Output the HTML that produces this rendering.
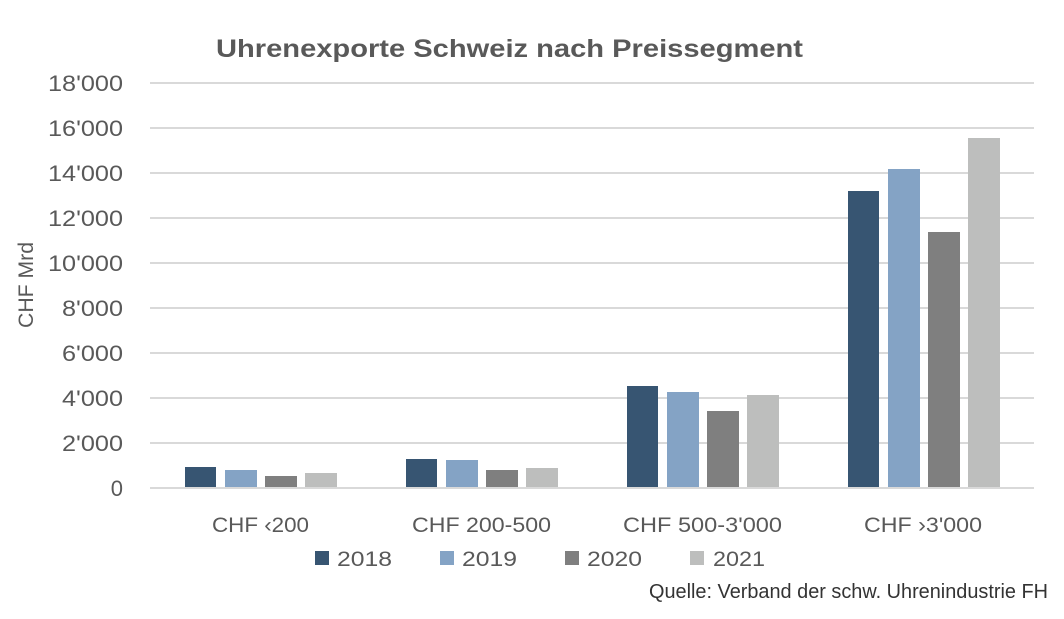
<!DOCTYPE html>
<html>
<head>
<meta charset="utf-8">
<style>
  html,body{margin:0;padding:0;background:#fff;}
  svg{display:block;}
  text{font-family:"Liberation Sans", sans-serif;}
</style>
</head>
<body>
<svg width="1064" height="619" viewBox="0 0 1064 619" xmlns="http://www.w3.org/2000/svg">
  <rect width="1064" height="619" fill="#ffffff"/>
  <!-- title -->
  <text x="216" y="57" font-size="25" font-weight="bold" fill="#595959" textLength="587" lengthAdjust="spacingAndGlyphs">Uhrenexporte Schweiz nach Preissegment</text>

  <!-- gridlines -->
  <g stroke="#d9d9d9" stroke-width="2">
    <line x1="150" x2="1034" y1="83" y2="83"/>
    <line x1="150" x2="1034" y1="128" y2="128"/>
    <line x1="150" x2="1034" y1="173" y2="173"/>
    <line x1="150" x2="1034" y1="218" y2="218"/>
    <line x1="150" x2="1034" y1="263" y2="263"/>
    <line x1="150" x2="1034" y1="308" y2="308"/>
    <line x1="150" x2="1034" y1="353" y2="353"/>
    <line x1="150" x2="1034" y1="398" y2="398"/>
    <line x1="150" x2="1034" y1="443" y2="443"/>
  </g>

  <!-- y tick labels -->
  <g font-size="22" fill="#595959" text-anchor="end">
    <text x="123" y="91" textLength="75" lengthAdjust="spacingAndGlyphs">18'000</text>
    <text x="123" y="136" textLength="75" lengthAdjust="spacingAndGlyphs">16'000</text>
    <text x="123" y="181" textLength="75" lengthAdjust="spacingAndGlyphs">14'000</text>
    <text x="123" y="226" textLength="75" lengthAdjust="spacingAndGlyphs">12'000</text>
    <text x="123" y="271" textLength="75" lengthAdjust="spacingAndGlyphs">10'000</text>
    <text x="123" y="316" textLength="61" lengthAdjust="spacingAndGlyphs">8'000</text>
    <text x="123" y="361" textLength="61" lengthAdjust="spacingAndGlyphs">6'000</text>
    <text x="123" y="406" textLength="61" lengthAdjust="spacingAndGlyphs">4'000</text>
    <text x="123" y="451" textLength="61" lengthAdjust="spacingAndGlyphs">2'000</text>
    <text x="123" y="496">0</text>
  </g>

  <!-- y axis title -->
  <text transform="translate(33,285) rotate(-90)" font-size="21" fill="#595959" text-anchor="middle" textLength="86" lengthAdjust="spacingAndGlyphs">CHF Mrd</text>

  <!-- bars -->
  <g>
    <!-- CHF <200 -->
    <rect x="185" y="467" width="31" height="20" fill="#375572"/>
    <rect x="225" y="470" width="32" height="17" fill="#84a3c5"/>
    <rect x="265" y="476" width="32" height="11" fill="#7f7f7f"/>
    <rect x="305" y="473" width="32" height="14" fill="#bdbebd"/>
    <!-- CHF 200-500 -->
    <rect x="406" y="459" width="31" height="28" fill="#375572"/>
    <rect x="446" y="460" width="32" height="27" fill="#84a3c5"/>
    <rect x="486" y="470" width="32" height="17" fill="#7f7f7f"/>
    <rect x="526" y="468" width="32" height="19" fill="#bdbebd"/>
    <!-- CHF 500-3'000 -->
    <rect x="627" y="386" width="31" height="101" fill="#375572"/>
    <rect x="667" y="392" width="32" height="95" fill="#84a3c5"/>
    <rect x="707" y="411" width="32" height="76" fill="#7f7f7f"/>
    <rect x="747" y="395" width="32" height="92" fill="#bdbebd"/>
    <!-- CHF >3'000 -->
    <rect x="848" y="191" width="31" height="296" fill="#375572"/>
    <rect x="888" y="169" width="32" height="318" fill="#84a3c5"/>
    <rect x="928" y="232" width="32" height="255" fill="#7f7f7f"/>
    <rect x="968" y="138" width="32" height="349" fill="#bdbebd"/>
  </g>

  <!-- x axis line -->
  <line x1="150" x2="1034" y1="488" y2="488" stroke="#d9d9d9" stroke-width="2"/>

  <!-- category labels -->
  <g font-size="21" fill="#595959" text-anchor="middle">
    <text x="260.5" y="532" textLength="97" lengthAdjust="spacingAndGlyphs">CHF ‹200</text>
    <text x="481.5" y="532" textLength="139" lengthAdjust="spacingAndGlyphs">CHF 200-500</text>
    <text x="702.5" y="532" textLength="159" lengthAdjust="spacingAndGlyphs">CHF 500-3'000</text>
    <text x="923" y="532" textLength="118" lengthAdjust="spacingAndGlyphs">CHF ›3'000</text>
  </g>

  <!-- legend -->
  <g font-size="21" fill="#595959">
    <rect x="315" y="551" width="14" height="14" fill="#375572"/>
    <text x="337" y="566" textLength="55" lengthAdjust="spacingAndGlyphs">2018</text>
    <rect x="440" y="551" width="14" height="14" fill="#84a3c5"/>
    <text x="462" y="566" textLength="55" lengthAdjust="spacingAndGlyphs">2019</text>
    <rect x="565" y="551" width="14" height="14" fill="#7f7f7f"/>
    <text x="587" y="566" textLength="55" lengthAdjust="spacingAndGlyphs">2020</text>
    <rect x="690" y="551" width="14" height="14" fill="#bdbebd"/>
    <text x="713" y="566" textLength="52" lengthAdjust="spacingAndGlyphs">2021</text>
  </g>

  <!-- source -->
  <text x="649" y="598" font-size="20" fill="#333333" textLength="399" lengthAdjust="spacingAndGlyphs">Quelle: Verband der schw. Uhrenindustrie FH</text>
</svg>
</body>
</html>
